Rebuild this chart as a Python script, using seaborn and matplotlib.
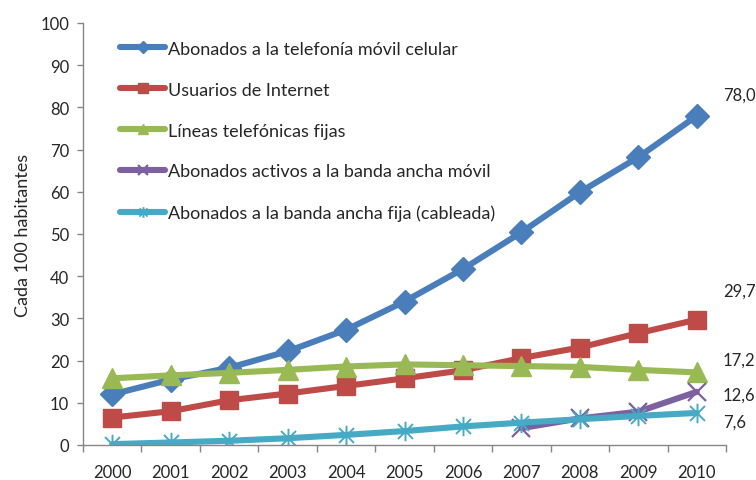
import matplotlib
matplotlib.use("Agg")
import matplotlib.pyplot as plt
from matplotlib.path import Path
from matplotlib.ticker import MultipleLocator, FixedLocator
import seaborn as sns
import pandas as pd

years = [2000, 2001, 2002, 2003, 2004, 2005, 2006, 2007, 2008, 2009, 2010]

movil = [12.0, 15.5, 18.3, 22.2, 27.3, 34.0, 41.7, 50.4, 59.9, 68.2, 78.0]
internet = [6.5, 8.0, 10.6, 12.2, 14.0, 15.8, 17.7, 20.6, 23.1, 26.5, 29.7]
fijas = [15.8, 16.5, 17.1, 17.8, 18.6, 19.1, 18.9, 18.7, 18.5, 17.8, 17.2]
bam_years = [2007, 2008, 2009, 2010]
banda_movil = [4.0, 6.3, 7.9, 12.6]
banda_fija = [0.2, 0.6, 1.0, 1.6, 2.4, 3.3, 4.4, 5.3, 6.1, 6.9, 7.6]

labels = [
    "Abonados a la telefonía móvil celular",
    "Usuarios de Internet",
    "Líneas telefónicas fijas",
    "Abonados activos a la banda ancha móvil",
    "Abonados a la banda ancha fija (cableada)",
]
colors = ["#4A7EBB", "#BE4B48", "#98B954", "#7D60A0", "#46AAC5"]

end_labels = ["78,0", "29,7", "17,2", "12,6", "7,6"]

sns.set_style("white")
plt.rcParams["font.family"] = ["Lato", "DejaVu Sans"]

# asterisk marker: an X plus a vertical stroke
asterisk = Path(
    [(-1, -1), (1, 1), (-1, 1), (1, -1), (0, -1.3), (0, 1.3)],
    [Path.MOVETO, Path.LINETO, Path.MOVETO, Path.LINETO, Path.MOVETO, Path.LINETO],
)

fig = plt.figure(figsize=(7.56, 4.81), dpi=100)
ax = fig.add_axes([83 / 756, 1 - 446 / 481, 643 / 756, 422 / 481])

pos = {y: i for i, y in enumerate(years)}
xs = [pos[y] for y in years]
xs_bam = [pos[y] for y in bam_years]

series = [
    (xs, movil, "D", 12, 1.0),
    (xs, internet, "s", 13, 1.0),
    (xs, fijas, "^", 14, 1.0),
    (xs_bam, banda_movil, "x", 13, 1.6),
    (xs, banda_fija, asterisk, 14, 1.4),
]

for (x, y, mk, ms, mew), lab, col in zip(series, labels, colors):
    df = pd.DataFrame({"x": x, "y": y})
    sns.lineplot(
        data=df, x="x", y="y", ax=ax, color=col, label=lab,
        linewidth=4.4, marker=mk, markersize=ms,
        markerfacecolor=col, markeredgecolor=col, markeredgewidth=mew,
        solid_joinstyle="round",
    )

# value labels at the last year
offsets = [(26, 21), (26, 29), (26, 13), (26, -3), (26, -9)]
last_vals = [movil[-1], internet[-1], fijas[-1], banda_movil[-1], banda_fija[-1]]
for val, txt, (dx, dy) in zip(last_vals, end_labels, offsets):
    ax.annotate(txt, xy=(10, val), xytext=(dx, dy), textcoords="offset pixels",
                ha="left", va="center", fontsize=12, color="#262626")

ax.set_xlim(-0.5, 10.5)
ax.set_ylim(0, 100)
ax.yaxis.set_major_locator(MultipleLocator(10))
ax.xaxis.set_major_locator(FixedLocator(range(len(years))))
ax.set_xticklabels([str(y) for y in years])
ax.xaxis.set_minor_locator(FixedLocator([i - 0.5 for i in range(len(years) + 1)]))

ax.set_xlabel("")
ax.set_ylabel("Cada 100 habitantes", fontsize=13, color="#262626", labelpad=7)

for side in ["top", "right"]:
    ax.spines[side].set_visible(False)
for side in ["left", "bottom"]:
    ax.spines[side].set_color("#868686")
    ax.spines[side].set_linewidth(1.0)

ax.tick_params(axis="y", which="major", direction="out", length=4, width=1,
               color="#868686", labelsize=12, labelcolor="#262626", pad=6, left=True)
ax.tick_params(axis="x", which="major", length=0, labelsize=12,
               labelcolor="#262626", pad=14)
ax.tick_params(axis="x", which="minor", direction="out", length=5, width=1,
               color="#868686", bottom=True)

ax.legend(
    loc="upper left", bbox_to_anchor=(0.0575, 0.958), frameon=False,
    fontsize=13, handlelength=2.5, handletextpad=0.17, labelspacing=1.38,
    borderpad=0, borderaxespad=0, numpoints=1, markerscale=0.55,
)
ax.grid(False)

fig.savefig("out.png", dpi=100)
